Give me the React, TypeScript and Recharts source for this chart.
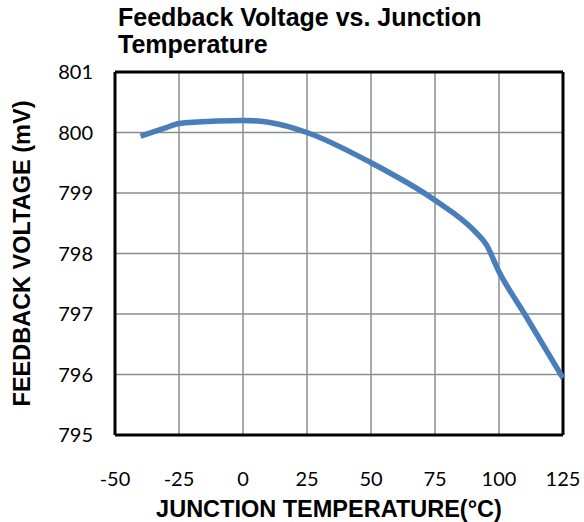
import { LineChart, Line, XAxis, YAxis, CartesianGrid, Label, ReferenceLine } from "recharts";

const temps = [-40, -30, -25, -10, 0, 10, 25, 50, 75, 90, 95, 100, 110, 125];
const voltages = [799.94, 800.08, 800.15, 800.19, 800.2, 800.17, 800.0, 799.5, 798.88, 798.39, 798.15, 797.7, 797.0, 795.94];
const xTicks = [-50, -25, 0, 25, 50, 75, 100, 125];
const yTicks = [795, 796, 797, 798, 799, 800, 801];

const data = temps.map((t, i) => ({ temp: t, mv: voltages[i] }));

const boldFont = "'Liberation Sans', Arial, sans-serif";
const tickFont = "Lato, 'Open Sans', sans-serif";

export default function App() {
  return (
    <div style={{ position: "absolute", left: 0, top: 0, width: 584, height: 522, background: "#fff" }}>
      <div
        style={{
          position: "absolute",
          left: 118,
          top: 4,
          fontFamily: boldFont,
          fontWeight: "bold",
          fontSize: 25,
          lineHeight: "26.5px",
          color: "#000",
          whiteSpace: "nowrap",
        }}
      >
        Feedback Voltage vs. Junction
        <br />
        Temperature
      </div>
      <LineChart
        width={584}
        height={522}
        data={data}
        margin={{ top: 72, right: 21, bottom: 0, left: 0 }}
      >
        <CartesianGrid stroke="#8c8c8c" strokeWidth={1.5} />
        <XAxis
          dataKey="temp"
          type="number"
          domain={[-50, 125]}
          ticks={xTicks}
          tickSize={0}
          tickMargin={37}
          axisLine={false}
          height={87}
          tick={{ fontSize: 20, fill: "#000", fontFamily: tickFont }}
        >
          <Label
            value="JUNCTION TEMPERATURE(°C)"
            position="insideBottom"
            offset={5}
            dx={-10}
            style={{ fontFamily: boldFont, fontWeight: "bold", fontSize: 23.5, fill: "#000" }}
          />
        </XAxis>
        <YAxis
          type="number"
          domain={[795, 801]}
          ticks={yTicks}
          tickSize={0}
          tickMargin={22}
          axisLine={false}
          width={115}
          tick={{ fontSize: 20, fill: "#000", fontFamily: tickFont }}
        >
          <Label
            value="FEEDBACK VOLTAGE (mV)"
            angle={-90}
            position="insideLeft"
            offset={22}
            style={{ textAnchor: "middle", fontFamily: boldFont, fontWeight: "bold", fontSize: 23.5, fill: "#000" }}
          />
        </YAxis>
        <ReferenceLine x={-50} stroke="#000" strokeWidth={3} />
        <ReferenceLine x={125} stroke="#000" strokeWidth={3} />
        <ReferenceLine y={795} stroke="#000" strokeWidth={3} />
        <ReferenceLine y={801} stroke="#000" strokeWidth={3} />
        <Line
          dataKey="mv"
          type="monotone"
          stroke="#4a7ebb"
          strokeWidth={5.5}
          dot={false}
          isAnimationActive={false}
        />
      </LineChart>
    </div>
  );
}
